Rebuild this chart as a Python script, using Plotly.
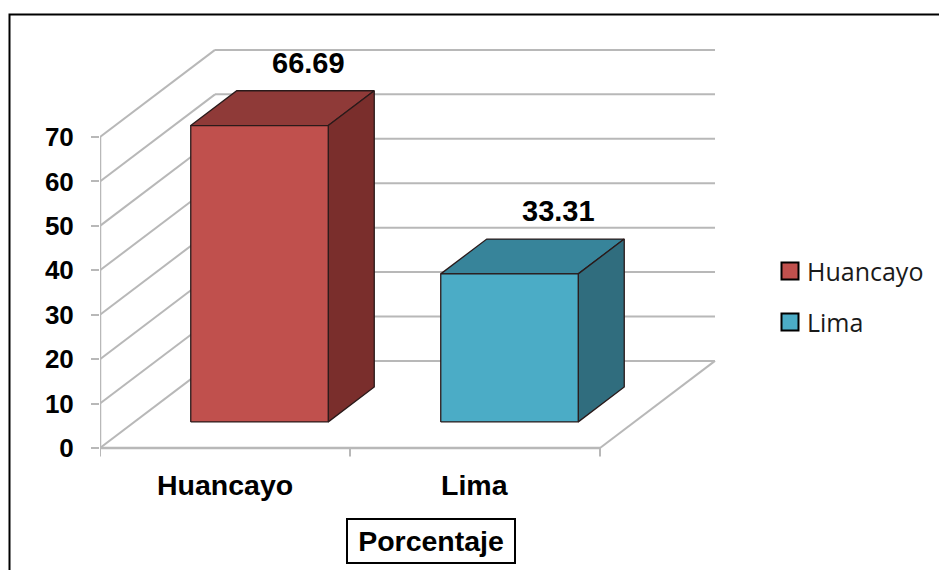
import plotly.graph_objects as go

# ---- data ----
categories = ["Huancayo", "Lima"]
percentages = [66.69, 33.31]
value_labels = ["66.69", "33.31"]
tick_values = [0, 10, 20, 30, 40, 50, 60, 70]
axis_title = "Porcentaje"

# ---- styling ----
front_colors = ["#C0504D", "#4BACC6"]
top_colors = ["#8F3A38", "#37849A"]
side_colors = ["#7A2E2C", "#306D7E"]
edge_color = "#2A1A1A"
grid_color = "#B8B8B8"
bold_font = "Liberation Sans, Arial, sans-serif"
legend_font = "Open Sans, Noto Sans, sans-serif"

# oblique projection of the depth axis (in data units of x and y)
DX, DY = 0.46, 19.6
BAR_W = 0.55
D_FRONT, D_BACK = 0.3, 0.7
X_LO, X_HI = -0.5, len(categories) - 0.5


def proj(x, y, d):
    return x + d * DX, y + d * DY


fig = go.Figure()


def add_line(pts, color=grid_color, width=2):
    fig.add_trace(go.Scatter(
        x=[p[0] for p in pts], y=[p[1] for p in pts], mode="lines",
        line=dict(color=color, width=width), hoverinfo="skip", showlegend=False))


def add_face(pts, fill):
    xs = [p[0] for p in pts] + [pts[0][0]]
    ys = [p[1] for p in pts] + [pts[0][1]]
    fig.add_trace(go.Scatter(
        x=xs, y=ys, mode="lines", fill="toself", fillcolor=fill,
        line=dict(color=edge_color, width=1.3), hoverinfo="skip", showlegend=False))


# walls: side wall diagonals and back wall gridlines
for t in tick_values:
    add_line([(X_LO, t), proj(X_LO, t, 1)])
    add_line([proj(X_LO, t, 1), proj(X_HI, t, 1)])

# floor front and right edges, vertical axis line
add_line([(X_LO, 0), (X_HI, 0)], width=2.5)
add_line([(X_HI, 0), proj(X_HI, 0, 1)])
add_line([(X_LO, 0), (X_LO, tick_values[-1])], width=2.5)

# category tick marks below the floor
for k in range(len(categories) + 1):
    add_line([(X_LO + k, 0), (X_LO + k, -1.9)], width=2)

# 3D bars
for i, (cat, v) in enumerate(zip(categories, percentages)):
    xl, xr = i - BAR_W / 2, i + BAR_W / 2
    top = [proj(xl, v, D_FRONT), proj(xr, v, D_FRONT),
           proj(xr, v, D_BACK), proj(xl, v, D_BACK)]
    side = [proj(xr, 0, D_FRONT), proj(xr, v, D_FRONT),
            proj(xr, v, D_BACK), proj(xr, 0, D_BACK)]
    front = [proj(xl, 0, D_FRONT), proj(xr, 0, D_FRONT),
             proj(xr, v, D_FRONT), proj(xl, v, D_FRONT)]
    add_face(top, top_colors[i])
    add_face(side, side_colors[i])
    add_face(front, front_colors[i])

    lx, ly = proj(i + 0.01, v, D_BACK)
    fig.add_annotation(x=lx, y=ly, text=f"<b>{value_labels[i]}</b>", showarrow=False,
                       xanchor="center", yanchor="middle", yshift=28,
                       font=dict(family=bold_font, size=29, color="black"))

    fig.add_annotation(x=i, y=0, text=f"<b>{cat}</b>", showarrow=False,
                       xanchor="center", yanchor="middle", yshift=-37,
                       font=dict(family=bold_font, size=28.5, color="black"))

# axis title in a framed box
fig.add_annotation(x=0.394, y=0.051, xref="paper", yref="paper",
                   text=f"<b>{axis_title}</b>", showarrow=False,
                   xanchor="center", yanchor="middle",
                   font=dict(family=bold_font, size=28.5, color="black"),
                   bordercolor="black", borderwidth=2, borderpad=4,
                   width=158, height=34, bgcolor="white")

# legend entries
W, H, L = 939, 570, 100
PW = W - L


def px_x(p):
    return (p - L) / PW


def px_y(p):
    return 1 - p / H


legend_rows = [271, 322]
for i, cat in enumerate(categories):
    cy = legend_rows[i]
    fig.add_shape(type="rect", xref="paper", yref="paper",
                  x0=px_x(781.5), x1=px_x(798.5), y0=px_y(cy + 8.5), y1=px_y(cy - 8.5),
                  fillcolor=front_colors[i], line=dict(color="black", width=2))
    fig.add_annotation(x=px_x(805), y=px_y(cy), xref="paper", yref="paper",
                       text=cat, showarrow=False, xanchor="left", yanchor="middle",
                       font=dict(family=legend_font, size=25, color="#1A1A1A"))

# outer chart frame
fig.add_shape(type="rect", xref="paper", yref="paper",
              x0=px_x(9.5), x1=px_x(945), y0=px_y(600), y1=px_y(14.5),
              line=dict(color="black", width=2), fillcolor="rgba(0,0,0,0)", layer="below")

fig.update_layout(
    width=W, height=H,
    margin=dict(l=L, r=0, t=0, b=0),
    paper_bgcolor="white", plot_bgcolor="white",
    showlegend=False,
    xaxis=dict(range=[X_LO, X_LO + PW / 250], visible=False, fixedrange=True),
    yaxis=dict(range=[-(H - 448) / 4.443, 448 / 4.443],
               tickvals=tick_values, showgrid=False, zeroline=False, showline=False,
               ticks="outside", ticklen=8, tickwidth=2, tickcolor=grid_color,
               ticklabelstandoff=12,
               tickfont=dict(family=bold_font, size=26, color="black", weight="bold"),
               fixedrange=True),
)

fig.write_html("out.html")
